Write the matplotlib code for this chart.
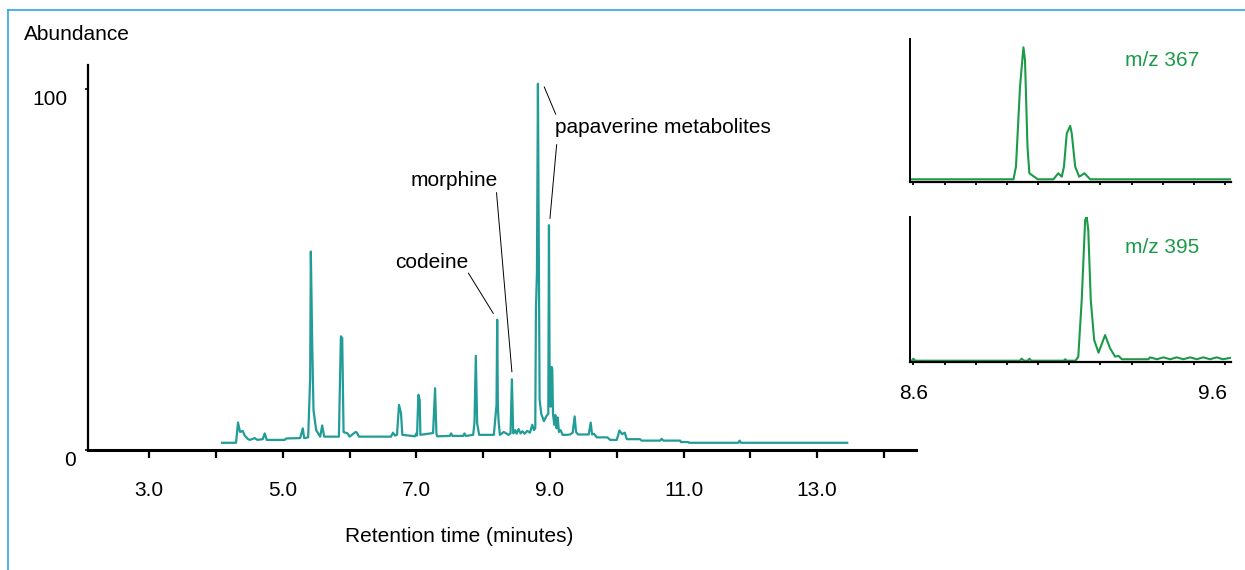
import matplotlib.pyplot as plt
import matplotlib.transforms as mtransforms
from matplotlib.lines import Line2D

plt.rcParams['font.family'] = ['Liberation Sans', 'DejaVu Sans']

# total ion chromatogram (minutes, % abundance)
tic_time = [
    4.09, 4.30, 4.33, 4.36, 4.40, 4.43, 4.48, 4.51, 4.58, 4.62, 4.70, 4.73, 4.76, 4.80,
    5.03, 5.05, 5.26, 5.30, 5.32, 5.38, 5.41, 5.42, 5.44, 5.46, 5.50, 5.56, 5.59, 5.62,
    5.84, 5.87, 5.89, 5.91, 5.97, 6.00, 6.09, 6.11, 6.14, 6.62, 6.65, 6.68,
    6.71, 6.74, 6.77, 6.79, 6.98, 7.00, 7.01, 7.03, 7.05, 7.06, 7.25, 7.28, 7.30, 7.31,
    7.50, 7.52, 7.54, 7.70, 7.72, 7.74, 7.85, 7.87, 7.89, 7.91, 7.94, 8.16,
    8.18, 8.20, 8.21, 8.22, 8.23, 8.25, 8.31, 8.38, 8.41, 8.43, 8.45, 8.48, 8.50, 8.53,
    8.56, 8.59, 8.62, 8.66, 8.70, 8.735, 8.76, 8.78, 8.79, 8.805, 8.82, 8.835, 8.845,
    8.87, 8.91, 8.95, 8.975, 8.985, 8.995, 9.01, 9.025, 9.035, 9.045, 9.065, 9.08,
    9.10, 9.115, 9.135, 9.16, 9.19, 9.25, 9.30, 9.34, 9.37, 9.39, 9.42, 9.58, 9.61,
    9.63, 9.66, 9.70, 9.86, 9.90, 10.00, 10.04, 10.08, 10.12, 10.15, 10.35, 10.37,
    10.65, 10.67, 10.70, 10.95, 10.96, 11.07, 11.08, 11.82, 11.84, 11.86, 13.45,
]
tic_abund = [
    2.0, 2.0, 7.6, 5.0, 5.3, 4.0, 3.0, 2.8, 3.3, 2.8, 3.0, 4.6, 2.8, 2.8,
    2.8, 3.2, 3.3, 6.0, 3.3, 3.5, 20.0, 55.0, 30.0, 11.0, 5.5, 3.7, 6.8, 3.7,
    3.7, 31.5, 31.0, 5.0, 4.6, 3.7, 5.0, 4.8, 3.7, 3.7, 4.8, 4.0,
    4.2, 12.5, 10.2, 4.2, 3.8, 4.6, 4.0, 15.3, 13.9, 4.2, 4.7, 17.1, 4.6, 3.8,
    3.9, 4.6, 3.9, 3.9, 4.6, 3.9, 4.2, 7.5, 26.1, 7.4, 4.2, 4.2,
    8.3, 12.5, 36.1, 12.5, 8.3, 4.2, 5.0, 4.2, 4.6, 19.6, 4.6, 5.5, 4.5, 5.8,
    4.6, 5.2, 4.5, 5.3, 4.8, 7.0, 5.5, 6.0, 39.0, 49.0, 101.5, 49.0, 14.0,
    10.0, 8.0, 9.5, 10.0, 62.3, 20.0, 12.0, 23.0, 22.4, 10.0, 7.0, 9.7,
    6.0, 9.0, 5.0, 5.5, 4.2, 4.2, 4.3, 4.8, 9.3, 5.0, 4.3, 4.3, 7.6,
    4.3, 4.5, 3.5, 3.5, 2.8, 2.8, 5.4, 4.4, 4.8, 3.0, 3.0, 2.6,
    2.6, 3.1, 2.6, 2.6, 2.2, 2.2, 2.0, 2.0, 2.6, 2.0, 2.0,
]

# extracted ion traces for the inserts (minutes, relative intensity)
ion367_time = [8.589, 8.921, 8.929, 8.942, 8.953, 8.958, 8.966, 8.972, 8.990, 8.999,
               9.049, 9.065, 9.076, 9.083, 9.092, 9.103, 9.108, 9.119, 9.132, 9.149,
               9.167, 9.618]
ion367_int = [2.1, 2.1, 10.9, 66.7, 94.2, 85.3, 24.8, 6.3, 3.5, 2.1,
              2.1, 6.3, 3.9, 10.9, 34.1, 39.4, 34.1, 10.9, 3.9, 6.3,
              2.1, 2.1]

ion395_time = [8.589, 8.595, 8.600, 8.605, 8.942, 8.947, 8.955, 8.967, 8.972, 8.978,
               9.083, 9.087, 9.092, 9.120, 9.129, 9.140, 9.151, 9.156, 9.161, 9.169,
               9.180, 9.194, 9.215, 9.231, 9.247, 9.258, 9.269, 9.354, 9.359, 9.381,
               9.402, 9.424, 9.445, 9.466, 9.488, 9.509, 9.530, 9.552, 9.573, 9.593,
               9.616]
ion395_int = [1.1, 1.1, 2.5, 1.1, 1.1, 2.5, 1.1, 1.1, 2.5, 1.1,
              1.1, 2.1, 1.1, 1.1, 3.9, 42.8, 97.7, 100.0, 90.9, 42.8,
              15.3, 6.6, 18.7, 9.6, 3.9, 4.4, 2.1, 2.1, 3.4, 2.1,
              3.4, 2.1, 3.4, 2.1, 3.4, 2.1, 3.4, 2.1, 3.4, 2.1,
              3.0]

x_major = [3, 5, 7, 9, 11, 13]
x_major_labels = ['3.0', '5.0', '7.0', '9.0', '11.0', '13.0']
x_minor = [4, 6, 8, 10, 12, 14]
y_ticks = [0, 100]
y_labels = ['0', '100']
inset_ticks = [8.6, 8.7, 8.8, 8.9, 9.0, 9.1, 9.2, 9.3, 9.4, 9.5, 9.6]
inset_labels = ['8.6', '9.6']

# peak labels: text, text position, leader lines (x0, y0, x1, y1)
peak_names = ['codeine', 'morphine', 'papaverine metabolites']
peak_text_pos = [(7.23, 52.1), (7.56, 74.6), (9.075, 89.5)]
peak_leaders = [
    [(7.78, 49.0, 8.15, 37.9)],
    [(8.20, 71.3, 8.43, 21.7)],
    [(8.915, 100.6, 9.085, 93.1), (9.10, 84.6, 9.0, 64.2)],
]

teal = '#229c97'
green = '#1b9a48'
fs = 15

fig = plt.figure(figsize=(12.45, 5.7), dpi=100)

# main chromatogram
ax = fig.add_axes([88 / 1245, 120 / 570, 828 / 1245, 385 / 570])
ax.plot(tic_time, tic_abund, color=teal, lw=1.6)
ax.set_xlim(2.084, 14.48)
ax.set_ylim(0, 106.7)
for s in ['top', 'right']:
    ax.spines[s].set_visible(False)
ax.spines['bottom'].set_linewidth(2.2)
ax.spines['left'].set_linewidth(1.6)

ax.set_xticks(x_major, x_major_labels, fontsize=fs)
ax.set_xticks(x_minor, minor=True)
ax.tick_params(axis='x', which='both', direction='out', length=6, width=1.6, pad=16)
ax.set_yticks(y_ticks, y_labels, fontsize=fs)
ax.tick_params(axis='y', direction='out', length=2.5, width=1.2, pad=12)
for lab, dx in zip(ax.get_yticklabels(), [8, 0]):
    lab.set_transform(lab.get_transform() +
                      mtransforms.ScaledTranslation(dx / 100, -0.08, fig.dpi_scale_trans))

for name, (tx, ty), segs in zip(peak_names, peak_text_pos, peak_leaders):
    ha = 'left' if name.startswith('papaverine') else 'center'
    ax.text(tx, ty, name, fontsize=fs, ha=ha, va='center')
    for x0, y0, x1, y1 in segs:
        ax.plot([x0, x1], [y0, y1], color='black', lw=0.7)

fig.text(24 / 1245, 1 - 35 / 570, 'Abundance', fontsize=fs, ha='left', va='center')
fig.text(459 / 1245, 1 - 537 / 570, 'Retention time (minutes)', fontsize=fs,
         ha='center', va='center')


def ion_panel(rect, t, v, label, label_y, show_labels):
    a = fig.add_axes(rect)
    a.plot(t, v, color=green, lw=1.5)
    a.set_xlim(8.589, 9.619)
    a.set_ylim(0, 100)
    for s in ['top', 'right']:
        a.spines[s].set_visible(False)
    a.spines['bottom'].set_linewidth(1.6)
    a.spines['left'].set_linewidth(1.4)
    a.set_yticks([])
    a.set_xticks(inset_ticks)
    a.tick_params(axis='x', direction='out', length=2.5, width=1.3, pad=13, labelsize=fs)
    if show_labels:
        a.set_xticklabels([inset_labels[0]] + [''] * 9 + [inset_labels[1]])
        a.get_xticklabels()[-1].set_ha('right')
        a.get_xticklabels()[-1].set_transform(
            a.get_xticklabels()[-1].get_transform() +
            mtransforms.ScaledTranslation(0.02, 0, fig.dpi_scale_trans))
    else:
        a.set_xticklabels([])
    a.text(9.279, label_y, label, color=green, fontsize=fs, ha='left', va='center')
    return a


ion_panel([910 / 1245, (570 - 182.3) / 570, 321 / 1245, 143.3 / 570],
          ion367_time, ion367_int, 'm/z 367', 85.3, False)
ion_panel([910 / 1245, (570 - 362.3) / 570, 321 / 1245, 145.6 / 570],
          ion395_time, ion395_int, 'm/z 395', 78.7, True)

# light blue frame edge (top and left)
blue = '#2aa7e3'
fig.add_artist(Line2D([8 / 1245, 1], [1 - 10 / 570, 1 - 10 / 570], color=blue, lw=1.2))
fig.add_artist(Line2D([8 / 1245, 8 / 1245], [0, 1 - 10 / 570], color=blue, lw=1.2))

fig.savefig('out.png', dpi=100)
